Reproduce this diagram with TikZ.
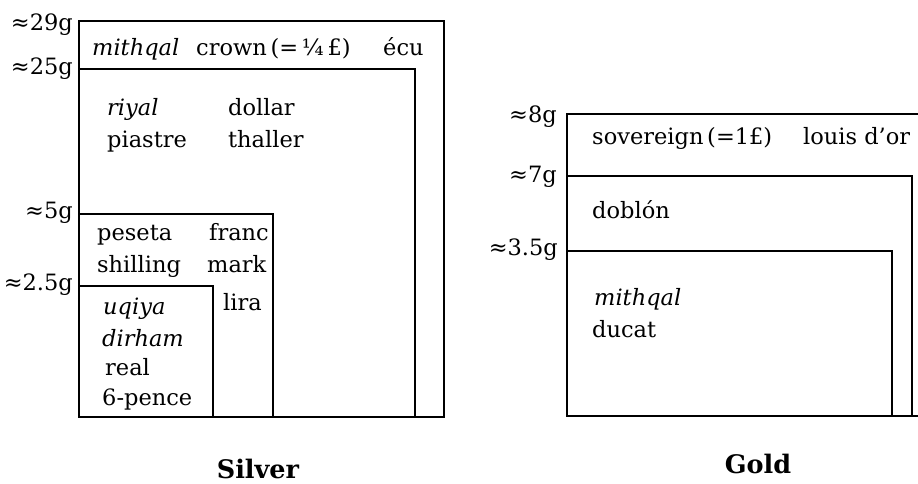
\documentclass[tikz,border=0pt]{standalone}
\usepackage{fontspec}
\setmainfont{DejaVu Serif}
\begin{document}
\begin{tikzpicture}[x=1pt,y=-1pt,
  box/.style={draw=black,line width=2.2pt},
  txt/.style={anchor=base west,inner sep=0pt,font=\fontsize{22.5}{26}\selectfont},
  it/.style={txt,font=\fontsize{22.5}{26}\selectfont\itshape},
  wt/.style={anchor=base east,inner sep=0pt,font=\fontsize{22.5}{26}\selectfont},
  ttl/.style={anchor=base,inner sep=0pt,font=\fontsize{25.5}{30}\selectfont\bfseries}]
\useasboundingbox (0,0) rectangle (918,483);
\clip (0,0) rectangle (918,483);
% Silver
\draw[box] (79,417) -- (79,21) -- (444,21) -- (444,417) -- cycle;
\draw[box] (79,69) -- (415,69) -- (415,417);
\draw[box] (79,214) -- (273,214) -- (273,417);
\draw[box] (79,286) -- (213,286) -- (213,417);
\node[wt] (s29) at (73,30) {≈29g};
\node[wt] (s25) at (73,74) {≈25g};
\node[wt] (s5) at (73,218) {≈5g};
\node[wt] (s25b) at (73,290) {≈2.5g};
\node[it] (mithqalS) at (92,55) {mithqal};
\node[txt] (crown) at (196,55) {crown\,(=\,¼\,£)};
\node[txt] (ecu) at (383,55) {écu};
\node[it] (riyal) at (107,115) {riyal};
\node[txt] (dollar) at (228,115) {dollar};
\node[txt] (piastre) at (107,147) {piastre};
\node[txt] (thaller) at (228,147) {thaller};
\node[txt] (peseta) at (97,240) {peseta};
\node[txt] (franc) at (209,240) {franc};
\node[txt] (shilling) at (97,272) {shilling};
\node[txt] (mark) at (207,272) {mark};
\node[txt] (lira) at (223,310) {lira};
\node[it] (uqiya) at (103,314) {uqiya};
\node[it] (dirham) at (102,346) {dirham};
\node[txt] (real) at (105,375) {real};
\node[txt] (pence) at (102,405) {6-pence};
\node[ttl] (silver) at (258,478) {Silver};
% Gold
\draw[box] (567,416) -- (567,114) -- (930,114) -- (930,416) -- cycle;
\draw[box] (567,176) -- (912,176) -- (912,416);
\draw[box] (567,251) -- (892,251) -- (892,416);
\node[wt] (g8) at (557,122) {≈8g};
\node[wt] (g7) at (557,182) {≈7g};
\node[wt] (g35) at (558,255) {≈3.5g};
\node[txt] (sovereign) at (592,144) {sovereign\,(=1£)};
\node[txt] (louis) at (803,144) {louis d'or};
\node[txt] (doblon) at (592,218) {doblón};
\node[it] (mithqalG) at (594,305) {mithqal};
\node[txt] (ducat) at (592,337) {ducat};
\node[ttl] (gold) at (758,473) {Gold};
\end{tikzpicture}
\end{document}
